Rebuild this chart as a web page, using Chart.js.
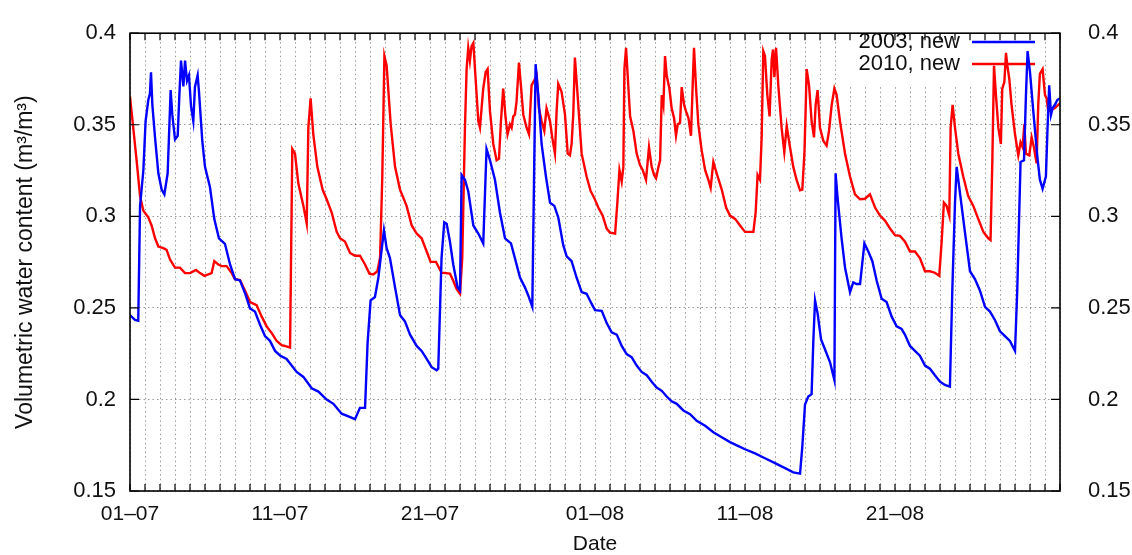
<!DOCTYPE html>
<html lang="en">
<head>
    <meta charset="UTF-8">
    <title>Volumetric water content 2003 / 2010</title>
    <script src="https://cdn.jsdelivr.net/npm/chart.js"></script>
    <style>
        body { margin: 0; background: #fff; }
    </style>
</head>
<body>
    <canvas id="vwcChart" width="1132" height="555"></canvas>

    <script>
        // x = days since 01-07, y = volumetric water content (m3/m3)
        const days2003 = [
            0, 0.33, 0.55, 0.67, 0.89, 1.04, 1.22, 1.33, 1.4, 1.49, 1.67, 1.89, 2.11, 2.29, 2.51, 2.71, 2.82, 3.0, 3.18, 3.29,
            3.4, 3.56, 3.67, 3.8, 3.93, 4.07, 4.22, 4.33, 4.51, 4.6, 4.82, 5.0, 5.33, 5.62, 5.93, 6.33, 6.67, 7.0, 7.33, 7.67,
            8.0, 8.33, 8.67, 9.0, 9.33, 9.67, 10.0, 10.44, 11.11, 11.56, 12.11, 12.56, 13.11, 13.56, 14.11, 14.56, 15.0, 15.33, 15.67, 15.84,
            16.04, 16.33, 16.56, 16.71, 16.93, 17.11, 17.33, 17.67, 18.0, 18.33, 18.67, 19.11, 19.44, 19.78, 20.11, 20.44, 20.55, 20.77, 20.95, 21.11,
            21.33, 21.55, 21.84, 22.0, 22.11, 22.33, 22.55, 22.89, 23.22, 23.55, 23.77, 24.0, 24.33, 24.66, 25.0, 25.4, 25.66, 26.0, 26.33, 26.55,
            26.82, 27.04, 27.22, 27.44, 27.73, 28.0, 28.29, 28.55, 28.88, 29.11, 29.44, 29.77, 30.11, 30.44, 30.77, 31.0, 31.45, 31.78, 32.11, 32.45,
            32.78, 33.11, 33.45, 33.78, 34.11, 34.45, 34.78, 35.11, 35.45, 35.78, 36.11, 36.45, 36.89, 37.34, 37.78, 38.34, 38.89, 39.45, 40.0, 40.67,
            41.0, 41.67, 42.33, 43.0, 43.67, 44.22, 44.67, 44.82, 45.0, 45.22, 45.44, 45.56, 45.67, 45.84, 46.07, 46.33, 46.67, 46.96, 47.04, 47.18,
            47.44, 47.67, 48.0, 48.22, 48.44, 48.67, 48.96, 49.22, 49.49, 49.78, 50.11, 50.44, 50.78, 51.11, 51.44, 51.66, 52.0, 52.33, 52.66, 53.0,
            53.33, 53.66, 54.0, 54.33, 54.66, 54.82, 55.0, 55.11, 55.33, 55.66, 56.0, 56.33, 56.66, 57.0, 57.33, 57.66, 58.0, 58.33, 58.66, 59.0,
            59.15, 59.37, 59.6, 59.73, 59.84, 60.0, 60.22, 60.49, 60.66, 60.84, 61.06, 61.17, 61.28, 61.4, 61.51, 61.66, 61.82, 62.0
        ];
        const vwc2003 = [
            0.246, 0.2434, 0.243, 0.3057, 0.325, 0.352, 0.3635, 0.367, 0.3787, 0.361, 0.343, 0.3235, 0.3146, 0.312, 0.3235, 0.369, 0.3555, 0.342, 0.344, 0.366,
            0.385, 0.371, 0.385, 0.374, 0.377, 0.36, 0.352, 0.3707, 0.377, 0.368, 0.341, 0.327, 0.316, 0.2985, 0.288, 0.285, 0.2737, 0.2657, 0.265, 0.258,
            0.2497, 0.248, 0.2408, 0.2346, 0.232, 0.2265, 0.224, 0.2221, 0.215, 0.2123, 0.2061, 0.2043, 0.1999, 0.1976, 0.1922, 0.1908, 0.1892, 0.1954, 0.1954, 0.231,
            0.2541, 0.2559, 0.2666, 0.2772, 0.2924, 0.2826, 0.2772, 0.2612, 0.2461, 0.2426, 0.2354, 0.2292, 0.2265, 0.2221, 0.2176, 0.2159, 0.2168, 0.2772, 0.2968, 0.296,
            0.2861, 0.2737, 0.2612, 0.2595, 0.3226, 0.32, 0.3137, 0.295, 0.2906, 0.2852, 0.3368, 0.3306, 0.32, 0.3022, 0.288, 0.2852, 0.2772, 0.2666, 0.2612, 0.2568,
            0.2506, 0.3831, 0.3662, 0.3395, 0.3217, 0.3075, 0.3057, 0.2995, 0.2844, 0.2781, 0.2755, 0.2666, 0.2586, 0.2577, 0.2523, 0.2488, 0.2484, 0.2417, 0.2367, 0.2354,
            0.2292, 0.2248, 0.223, 0.2185, 0.215, 0.2132, 0.2097, 0.2065, 0.2047, 0.2016, 0.199, 0.1976, 0.194, 0.1919, 0.1883, 0.1856, 0.1821, 0.1794, 0.1767, 0.1741,
            0.1728, 0.1705, 0.1679, 0.1652, 0.1625, 0.1602, 0.1595, 0.1741, 0.1972, 0.2016, 0.2029, 0.2328, 0.2541, 0.247, 0.2328, 0.2274, 0.2203, 0.2105, 0.3235, 0.3093,
            0.2879, 0.2719, 0.2586, 0.2639, 0.263, 0.263, 0.2852, 0.2808, 0.2755, 0.2648, 0.255, 0.2532, 0.2452, 0.2399, 0.2385, 0.2354, 0.2292, 0.2265, 0.2239, 0.2185,
            0.2168, 0.2132, 0.2097, 0.2079, 0.207, 0.2595, 0.3075, 0.327, 0.3128, 0.2915, 0.27, 0.2657, 0.2595, 0.2506, 0.248, 0.2434, 0.2372, 0.2346, 0.2319, 0.2265,
            0.2595, 0.3297, 0.3306, 0.3662, 0.3902, 0.3787, 0.3573, 0.3324, 0.32, 0.315, 0.3217, 0.3484, 0.3715, 0.3555, 0.3591, 0.3609, 0.3635, 0.3644
        ];

        const days2010 = [
            0, 0.22, 0.44, 0.67, 0.89, 1.22, 1.44, 1.67, 1.89, 2.22, 2.44, 2.67, 3.0, 3.33, 3.67, 4.0, 4.4, 4.67, 4.96, 5.22,
            5.44, 5.62, 5.89, 6.11, 6.44, 6.78, 7.0, 7.33, 7.67, 8.0, 8.44, 8.78, 9.11, 9.44, 9.78, 10.11, 10.33, 10.67, 10.82, 11.0,
            11.22, 11.56, 11.78, 11.89, 12.04, 12.22, 12.49, 12.84, 13.11, 13.44, 13.78, 14.0, 14.33, 14.67, 15.0, 15.33, 15.67, 15.96, 16.22, 16.49,
            16.67, 16.82, 16.96, 17.11, 17.38, 17.67, 18.0, 18.44, 18.78, 19.11, 19.44, 19.78, 20.04, 20.4, 20.77, 21.33, 21.55, 21.77, 22.0, 22.15,
            22.33, 22.44, 22.55, 22.66, 22.77, 22.89, 23.04, 23.22, 23.33, 23.55, 23.71, 23.84, 24.0, 24.22, 24.44, 24.6, 24.73, 24.88, 25.04, 25.17,
            25.33, 25.44, 25.55, 25.66, 25.77, 25.93, 26.06, 26.22, 26.44, 26.6, 26.77, 26.95, 27.11, 27.26, 27.44, 27.62, 27.77, 28.0, 28.15, 28.33,
            28.44, 28.55, 28.77, 29.0, 29.18, 29.33, 29.44, 29.55, 29.66, 29.84, 30.11, 30.44, 30.7, 30.94, 31.22, 31.51, 31.78, 32.0, 32.34, 32.49,
            32.63, 32.78, 32.89, 32.96, 33.07, 33.23, 33.34, 33.56, 33.78, 34.0, 34.18, 34.4, 34.6, 34.78, 34.94, 35.07, 35.23, 35.34, 35.45, 35.56,
            35.67, 35.78, 35.96, 36.11, 36.27, 36.4, 36.51, 36.67, 36.78, 36.94, 37.07, 37.23, 37.4, 37.49, 37.6, 37.74, 37.89, 38.11, 38.34, 38.56,
            38.71, 38.89, 39.11, 39.45, 39.74, 40.0, 40.34, 40.67, 41.0, 41.56, 41.71, 41.84, 42.0, 42.11, 42.22, 42.33, 42.49, 42.64, 42.78, 42.87,
            42.96, 43.07, 43.22, 43.44, 43.62, 43.78, 44.0, 44.22, 44.44, 44.67, 44.82, 44.96, 45.04, 45.11, 45.27, 45.44, 45.6, 45.71, 45.84, 46.0,
            46.22, 46.44, 46.6, 46.78, 46.96, 47.11, 47.33, 47.67, 48.0, 48.33, 48.67, 49.0, 49.33, 49.67, 50.0, 50.33, 50.67, 51.0, 51.33, 51.67,
            52.0, 52.33, 52.66, 53.0, 53.33, 53.66, 53.95, 54.11, 54.26, 54.44, 54.62, 54.71, 54.84, 55.0, 55.22, 55.55, 55.88, 56.22, 56.55, 56.89,
            57.22, 57.37, 57.49, 57.6, 57.73, 57.89, 58.06, 58.15, 58.29, 58.4, 58.49, 58.62, 58.77, 59.0, 59.22, 59.37, 59.51, 59.62, 59.73, 59.95,
            60.11, 60.26, 60.44, 60.55, 60.66, 60.84, 61.0, 61.11, 61.22, 61.44, 61.66, 61.88, 62.0
        ];
        const vwc2010 = [
            0.3653, 0.348, 0.3306, 0.311, 0.303, 0.2995, 0.295, 0.288, 0.2835, 0.2826, 0.2817, 0.2764, 0.272, 0.272, 0.269, 0.269, 0.2707, 0.269, 0.2675, 0.2683,
            0.269, 0.2755, 0.2737, 0.2728, 0.2728, 0.269, 0.2657, 0.2652, 0.2594, 0.2532, 0.2515, 0.2452, 0.2399, 0.2363, 0.2319, 0.2296, 0.2292, 0.2283, 0.3368, 0.3342,
            0.318, 0.3057, 0.296, 0.3484, 0.3644, 0.3448, 0.327, 0.3146, 0.3093, 0.3022, 0.2915, 0.288, 0.2862, 0.28, 0.2785, 0.2785, 0.2737, 0.2687, 0.2683, 0.27,
            0.2772, 0.3217, 0.3875, 0.3822, 0.3502, 0.327, 0.3146, 0.3057, 0.295, 0.2906, 0.288, 0.2808, 0.2751, 0.2751, 0.2692, 0.2687, 0.2648, 0.2604, 0.2577, 0.2772,
            0.3484, 0.3804, 0.392, 0.3849, 0.3929, 0.3947, 0.3751, 0.352, 0.3484, 0.3698, 0.3787, 0.3804, 0.3573, 0.3395, 0.3306, 0.3315, 0.352, 0.3698, 0.3537, 0.3448,
            0.3502, 0.3484, 0.3546, 0.3555, 0.3626, 0.384, 0.3715, 0.3555, 0.3484, 0.3448, 0.3715, 0.3742, 0.3769, 0.359, 0.352, 0.3466, 0.359, 0.352, 0.3431, 0.3342,
            0.3573, 0.3724, 0.368, 0.3555, 0.3342, 0.3333, 0.3395, 0.3555, 0.3867, 0.3662, 0.3342, 0.3217, 0.314, 0.3102, 0.3048, 0.3004, 0.2933, 0.2911, 0.2906, 0.3075,
            0.3253, 0.319, 0.327, 0.3804, 0.392, 0.3698, 0.3546, 0.3466, 0.3342, 0.328, 0.3253, 0.3199, 0.3377, 0.327, 0.3226, 0.3208, 0.327, 0.3306, 0.3662, 0.3609,
            0.3875, 0.3769, 0.3698, 0.359, 0.3537, 0.344, 0.3502, 0.3511, 0.3706, 0.3609, 0.3573, 0.3537, 0.344, 0.3662, 0.392, 0.3698, 0.3502, 0.336, 0.3253, 0.3199,
            0.3155, 0.3297, 0.3235, 0.3146, 0.3048, 0.3004, 0.2986, 0.295, 0.2915, 0.2915, 0.3022, 0.3226, 0.32, 0.3431, 0.3902, 0.3875, 0.3662, 0.3546, 0.3858, 0.3911,
            0.376, 0.392, 0.3715, 0.3484, 0.3351, 0.3493, 0.3377, 0.327, 0.3199, 0.3142, 0.3146, 0.3342, 0.3573, 0.3804, 0.3715, 0.352, 0.3431, 0.3609, 0.3689, 0.3484,
            0.3413, 0.3386, 0.3466, 0.3609, 0.3698, 0.3662, 0.352, 0.3342, 0.3217, 0.312, 0.3093, 0.3096, 0.312, 0.3048, 0.3004, 0.2977, 0.2933, 0.2897, 0.2893, 0.2862,
            0.2808, 0.2808, 0.2772, 0.27, 0.27, 0.2692, 0.2675, 0.2862, 0.3075, 0.3057, 0.3004, 0.3484, 0.3609, 0.3484, 0.3342, 0.3217, 0.311, 0.3057, 0.2986, 0.2915,
            0.288, 0.287, 0.3306, 0.3822, 0.3662, 0.3484, 0.3395, 0.3698, 0.3733, 0.3893, 0.3822, 0.3751, 0.3609, 0.3448, 0.3333, 0.3404, 0.3377, 0.3502, 0.3342, 0.3333,
            0.3431, 0.3377, 0.3289, 0.3609, 0.3778, 0.3804, 0.3662, 0.3644, 0.3573, 0.3582, 0.3591, 0.3609, 0.3617
        ];

        const labelDays = [0, 10, 20, 31, 41, 51];
        const labelTexts = ['01–07', '11–07', '21–07', '01–08', '11–08', '21–08'];
        const yTicks = [0.15, 0.2, 0.25, 0.3, 0.35, 0.4];

        const toPoints = (xs, ys) => xs.map((x, i) => ({ x: x, y: ys[i] }));

        Chart.defaults.font.family = '"Liberation Sans", Arial, sans-serif';
        Chart.defaults.font.size = 21;
        Chart.defaults.color = '#111';

        const gridStyle = {
            color: 'rgba(0,0,0,0.4)',
            lineWidth: 1,
            drawTicks: false
        };

        // gnuplot style: key box inside the plot, inward ticks and a full frame
        const gnuplotLook = {
            id: 'gnuplotLook',
            beforeDatasetsDraw(chart) {
                const c = chart.ctx;
                c.save();
                c.fillStyle = '#fff';
                c.fillRect(846, chart.chartArea.top + 1, 194, 52);
                c.font = '22px "Liberation Sans", Arial, sans-serif';
                c.textAlign = 'right';
                c.textBaseline = 'middle';
                chart.data.datasets.forEach((ds, i) => {
                    const y = 42 + i * 22;
                    c.fillStyle = '#111';
                    c.fillText(ds.label, 960, y);
                    c.strokeStyle = ds.borderColor;
                    c.lineWidth = 2.4;
                    c.beginPath();
                    c.moveTo(972, y);
                    c.lineTo(1035, y);
                    c.stroke();
                });
                c.restore();
            },
            afterDraw(chart) {
                const c = chart.ctx;
                const a = chart.chartArea;
                c.save();
                c.strokeStyle = '#000';
                c.lineWidth = 1.2;
                c.beginPath();
                chart.scales.x.ticks.forEach(t => {
                    const px = chart.scales.x.getPixelForValue(t.value);
                    c.moveTo(px, a.bottom); c.lineTo(px, a.bottom - 7);
                    c.moveTo(px, a.top); c.lineTo(px, a.top + 7);
                });
                chart.scales.y.ticks.forEach(t => {
                    const py = chart.scales.y.getPixelForValue(t.value);
                    c.moveTo(a.left, py); c.lineTo(a.left + 9, py);
                    c.moveTo(a.right, py); c.lineTo(a.right - 9, py);
                });
                c.stroke();
                c.lineWidth = 1.6;
                c.strokeRect(a.left, a.top, a.right - a.left, a.bottom - a.top);
                c.restore();
            }
        };

        const yTickLabel = v => String(Math.round(v * 100) / 100);

        new Chart(document.getElementById('vwcChart'), {
            type: 'line',
            data: {
                datasets: [{
                    label: '2003, new',
                    data: toPoints(days2003, vwc2003),
                    borderColor: '#0000ff',
                    borderWidth: 2.4,
                    pointRadius: 0,
                    tension: 0
                }, {
                    label: '2010, new',
                    data: toPoints(days2010, vwc2010),
                    borderColor: '#ff0000',
                    borderWidth: 2.4,
                    pointRadius: 0,
                    tension: 0
                }]
            },
            options: {
                responsive: false,
                animation: false,
                layout: { padding: { top: 23, left: 0, right: 0, bottom: 0 } },
                plugins: {
                    legend: { display: false },
                    tooltip: { enabled: false }
                },
                scales: {
                    x: {
                        type: 'linear',
                        min: 0,
                        max: 62,
                        grid: Object.assign({}, gridStyle),
                        border: { display: false, dash: [1.5, 3] },
                        ticks: {
                            stepSize: 1,
                            autoSkip: false,
                            maxRotation: 0,
                            padding: 11,
                            callback: v => {
                                const i = labelDays.indexOf(v);
                                return i >= 0 ? labelTexts[i] : '';
                            }
                        },
                        title: {
                            display: true,
                            text: 'Date',
                            font: { size: 21, lineHeight: 1 },
                            padding: { top: 0, bottom: 0 }
                        },
                        afterFit: s => { s.height = 64; }
                    },
                    y: {
                        position: 'left',
                        min: 0.15,
                        max: 0.4,
                        afterBuildTicks: s => { s.ticks = yTicks.map(v => ({ value: v })); },
                        grid: Object.assign({}, gridStyle),
                        border: { display: false, dash: [1.5, 3] },
                        ticks: { padding: 14, font: { size: 22 }, callback: yTickLabel },
                        title: {
                            display: true,
                            text: 'Volumetric water content (m³/m³)',
                            font: { size: 23 },
                            padding: { top: 12, bottom: 0 }
                        },
                        afterFit: s => { s.width = 130; }
                    },
                    y2: {
                        position: 'right',
                        min: 0.15,
                        max: 0.4,
                        afterBuildTicks: s => { s.ticks = yTicks.map(v => ({ value: v })); },
                        grid: { display: false },
                        border: { display: false },
                        ticks: { padding: 20, font: { size: 22 }, callback: yTickLabel },
                        afterFit: s => { s.width = 72; }
                    }
                }
            },
            plugins: [gnuplotLook]
        });
    </script>
</body>
</html>
